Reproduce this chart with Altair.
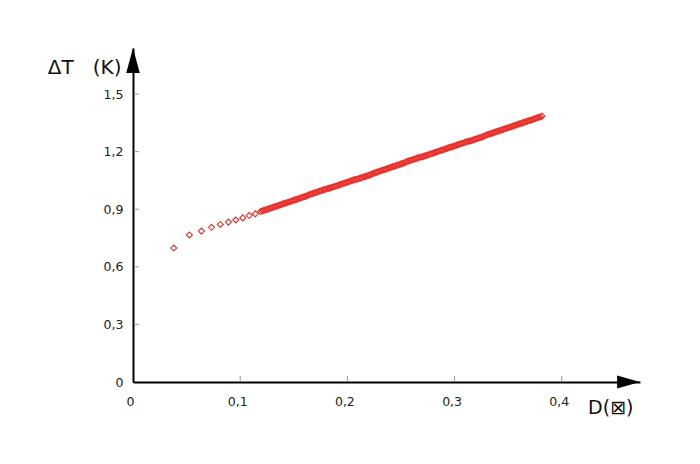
import altair as alt
import pandas as pd

# Diffusion length D and temperature rise dT
# sparse start of the series
D_START = [0.0380, 0.0526, 0.0638, 0.0732, 0.0815, 0.0890, 0.0959, 0.1024, 0.1084, 0.1141]
DT_START = [0.698, 0.766, 0.786, 0.806, 0.821, 0.833, 0.844, 0.855, 0.867, 0.876]

# dense part of the series
D_DENSE = [
    0.1190, 0.1205, 0.1220, 0.1235, 0.1250, 0.1265, 0.1280, 0.1295, 0.1310, 0.1325,
    0.1340, 0.1355, 0.1370, 0.1385, 0.1400, 0.1415, 0.1430, 0.1445, 0.1460, 0.1475,
    0.1490, 0.1505, 0.1520, 0.1535, 0.1550, 0.1565, 0.1580, 0.1595, 0.1610, 0.1625,
    0.1640, 0.1655, 0.1670, 0.1685, 0.1700, 0.1715, 0.1730, 0.1745, 0.1760, 0.1775,
    0.1790, 0.1805, 0.1820, 0.1835, 0.1850, 0.1865, 0.1880, 0.1895, 0.1910, 0.1925,
    0.1940, 0.1955, 0.1970, 0.1985, 0.2000, 0.2015, 0.2030, 0.2045, 0.2060, 0.2075,
    0.2090, 0.2105, 0.2120, 0.2135, 0.2150, 0.2165, 0.2180, 0.2195, 0.2210, 0.2225,
    0.2240, 0.2255, 0.2270, 0.2285, 0.2300, 0.2315, 0.2330, 0.2345, 0.2360, 0.2375,
    0.2390, 0.2405, 0.2420, 0.2435, 0.2450, 0.2465, 0.2480, 0.2495, 0.2510, 0.2525,
    0.2540, 0.2555, 0.2570, 0.2585, 0.2600, 0.2615, 0.2630, 0.2645, 0.2660, 0.2675,
    0.2690, 0.2705, 0.2720, 0.2735, 0.2750, 0.2765, 0.2780, 0.2795, 0.2810, 0.2825,
    0.2840, 0.2855, 0.2870, 0.2885, 0.2900, 0.2915, 0.2930, 0.2945, 0.2960, 0.2975,
    0.2990, 0.3005, 0.3020, 0.3035, 0.3050, 0.3065, 0.3080, 0.3095, 0.3110, 0.3125,
    0.3140, 0.3155, 0.3170, 0.3185, 0.3200, 0.3215, 0.3230, 0.3245, 0.3260, 0.3275,
    0.3290, 0.3305, 0.3320, 0.3335, 0.3350, 0.3365, 0.3380, 0.3395, 0.3410, 0.3425,
    0.3440, 0.3455, 0.3470, 0.3485, 0.3500, 0.3515, 0.3530, 0.3545, 0.3560, 0.3575,
    0.3590, 0.3605, 0.3620, 0.3635, 0.3650, 0.3665, 0.3680, 0.3695, 0.3710, 0.3725,
    0.3740, 0.3755, 0.3770, 0.3785, 0.3800, 0.3815,
]
DT_DENSE = [
    0.888, 0.891, 0.894, 0.897, 0.899, 0.902, 0.905, 0.908, 0.911, 0.914,
    0.916, 0.919, 0.922, 0.925, 0.928, 0.931, 0.933, 0.936, 0.939, 0.942,
    0.945, 0.948, 0.950, 0.953, 0.956, 0.959, 0.962, 0.965, 0.967, 0.970,
    0.975, 0.978, 0.981, 0.984, 0.986, 0.989, 0.992, 0.995, 0.998, 1.001,
    1.003, 1.005, 1.008, 1.010, 1.013, 1.016, 1.018, 1.021, 1.024, 1.027,
    1.030, 1.033, 1.035, 1.038, 1.041, 1.044, 1.047, 1.050, 1.053, 1.055,
    1.056, 1.059, 1.062, 1.065, 1.068, 1.070, 1.073, 1.076, 1.079, 1.082,
    1.086, 1.089, 1.092, 1.095, 1.098, 1.101, 1.104, 1.106, 1.109, 1.112,
    1.115, 1.118, 1.121, 1.123, 1.126, 1.129, 1.132, 1.135, 1.138, 1.140,
    1.145, 1.148, 1.151, 1.154, 1.157, 1.159, 1.162, 1.165, 1.168, 1.171,
    1.172, 1.174, 1.177, 1.180, 1.183, 1.186, 1.189, 1.191, 1.194, 1.197,
    1.200, 1.203, 1.206, 1.208, 1.211, 1.214, 1.217, 1.220, 1.223, 1.225,
    1.228, 1.231, 1.234, 1.237, 1.240, 1.242, 1.245, 1.248, 1.251, 1.254,
    1.255, 1.257, 1.260, 1.263, 1.266, 1.269, 1.272, 1.274, 1.277, 1.280,
    1.285, 1.288, 1.291, 1.293, 1.296, 1.299, 1.302, 1.305, 1.308, 1.310,
    1.313, 1.316, 1.319, 1.322, 1.325, 1.327, 1.330, 1.333, 1.336, 1.339,
    1.342, 1.345, 1.347, 1.350, 1.353, 1.356, 1.359, 1.362, 1.364, 1.367,
    1.370, 1.373, 1.376, 1.379, 1.381, 1.385,
]

X_TICKS = [0.1, 0.2, 0.3, 0.4]
Y_TICKS = [0.3, 0.6, 0.9, 1.2, 1.5]
X_MAX = 0.473
Y_MAX = 1.74

W, H = 507, 334
FONT = "DejaVu Sans"
NBSP = "\u00a0"

points = pd.DataFrame({"D": D_START + D_DENSE, "dT": DT_START + DT_DENSE})
xticks = pd.DataFrame({"D": X_TICKS})
yticks = pd.DataFrame({"dT": Y_TICKS})
x_arrow = pd.DataFrame({"D": [X_MAX], "dT": [0]})
y_arrow = pd.DataFrame({"D": [0], "dT": [Y_MAX]})

xs = alt.Scale(domain=[0, X_MAX], nice=False, zero=True)
ys = alt.Scale(domain=[0, Y_MAX], nice=False, zero=True)

label_expr = "datum.value == 0 ? '0' : replace(format(datum.value, '.1f'), '.', ',')"

x_axis = alt.Axis(
    values=[0] + X_TICKS, labelExpr=label_expr, ticks=False, tickSize=0, grid=False,
    domainColor="black", domainWidth=2, labelFont=FONT, labelFontSize=12.5,
    labelColor="#222", labelPadding=13, labelOffset=-3, labelFlush=False,
    labelOverlap=False, labelBound=False,
    title="D(⊠)", titleFont=FONT, titleFontSize=19, titleFontWeight="normal",
    titleColor="#111", titleAlign="right", titleBaseline="middle",
    titleAnchor="start", titleX=500, titleY=25,
)
y_axis = alt.Axis(
    values=[0] + Y_TICKS, labelExpr=label_expr, ticks=False, tickSize=0, grid=False,
    domainColor="black", domainWidth=2, labelFont=FONT, labelFontSize=12.5,
    labelColor="#222", labelPadding=10, labelFlush=False,
    labelOverlap=False, labelBound=False,
    title="ΔT" + NBSP * 3 + "(K)", titleFont=FONT, titleFontSize=20,
    titleFontWeight="normal", titleColor="#111", titleAngle=0, titleAlign="right",
    titleBaseline="middle", titleAnchor="start", titleX=-12, titleY=19,
)

X = lambda: alt.X("D:Q", scale=xs, axis=x_axis)
Y = lambda: alt.Y("dT:Q", scale=ys, axis=y_axis)

pts = alt.Chart(points).mark_point(
    shape="diamond", size=36, filled=False, color="#e8302c", strokeWidth=1.1, opacity=1
).encode(x=X(), y=Y())

xt = alt.Chart(xticks).mark_rule(color="#999", strokeWidth=1).encode(
    x=X(), y=alt.value(H - 1), y2=alt.value(H - 6),
)
yt = alt.Chart(yticks).mark_rule(color="#999", strokeWidth=1).encode(
    y=Y(), x=alt.value(1), x2=alt.value(6),
)

xa = alt.Chart(x_arrow).mark_point(
    shape="M0,0L-0.88,-0.25L-0.88,0.25Z", size=2704, filled=True,
    color="black", opacity=1, strokeWidth=0
).encode(x=X(), y=Y())

ya = alt.Chart(y_arrow).mark_point(
    shape="M0,0L-0.26,0.96L0.26,0.96Z", size=2704, filled=True,
    color="black", opacity=1, strokeWidth=0
).encode(x=X(), y=Y())

chart = alt.layer(pts, xt, yt, xa, ya).properties(
    width=W, height=H,
    autosize=alt.AutoSizeParams(type="none"),
    padding={"left": 125, "top": 40, "right": 50, "bottom": 70},
    background="white",
).configure_view(stroke=None)

chart.save("out.html", embed_options={"renderer": "svg", "actions": False})
